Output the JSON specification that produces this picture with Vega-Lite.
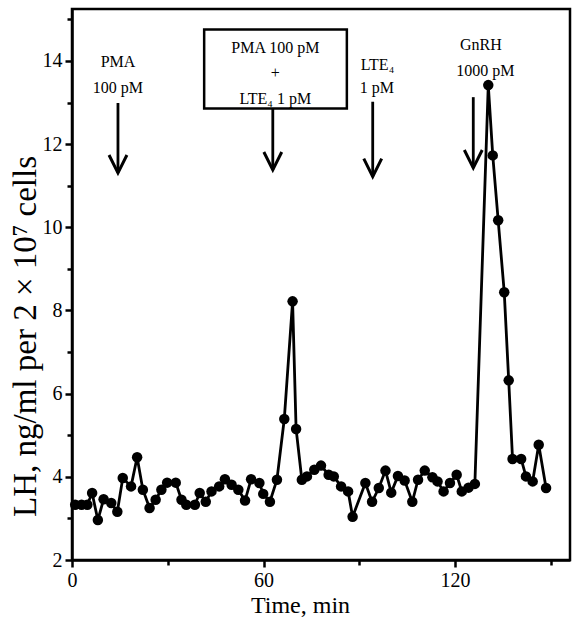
{
  "$schema": "https://vega.github.io/schema/vega-lite/v6.json",
  "width": 498,
  "height": 551,
  "autosize": {"type": "none"},
  "padding": {"left": 72, "top": 9, "right": 6, "bottom": 62},
  "background": "white",
  "datasets": {
    "lh": [
      {"t": 1.0, "v": 3.33}, {"t": 3.0, "v": 3.33}, {"t": 4.8, "v": 3.33}, {"t": 6.3, "v": 3.61},
      {"t": 8.1, "v": 2.96}, {"t": 9.9, "v": 3.46}, {"t": 12.3, "v": 3.37}, {"t": 14.2, "v": 3.16},
      {"t": 15.9, "v": 3.97}, {"t": 18.5, "v": 3.77}, {"t": 20.4, "v": 4.47}, {"t": 22.2, "v": 3.69},
      {"t": 24.3, "v": 3.25}, {"t": 26.2, "v": 3.45}, {"t": 28.0, "v": 3.69}, {"t": 29.8, "v": 3.86},
      {"t": 32.5, "v": 3.86}, {"t": 34.3, "v": 3.45}, {"t": 35.8, "v": 3.33}, {"t": 38.5, "v": 3.33},
      {"t": 40.0, "v": 3.61}, {"t": 41.9, "v": 3.40}, {"t": 43.7, "v": 3.65}, {"t": 46.1, "v": 3.77},
      {"t": 47.9, "v": 3.94}, {"t": 50.0, "v": 3.81}, {"t": 52.1, "v": 3.69}, {"t": 54.2, "v": 3.43},
      {"t": 56.1, "v": 3.94}, {"t": 58.7, "v": 3.85}, {"t": 59.9, "v": 3.59}, {"t": 62.0, "v": 3.40},
      {"t": 64.2, "v": 3.93}, {"t": 66.5, "v": 5.39}, {"t": 69.1, "v": 8.22}, {"t": 70.2, "v": 5.15},
      {"t": 72.0, "v": 3.93}, {"t": 73.6, "v": 4.01}, {"t": 75.9, "v": 4.17}, {"t": 78.0, "v": 4.27},
      {"t": 80.4, "v": 4.05}, {"t": 82.0, "v": 4.01}, {"t": 84.3, "v": 3.77}, {"t": 86.5, "v": 3.65},
      {"t": 87.9, "v": 3.04}, {"t": 91.9, "v": 3.85}, {"t": 94.0, "v": 3.40}, {"t": 96.1, "v": 3.73},
      {"t": 98.2, "v": 4.15}, {"t": 100.0, "v": 3.62}, {"t": 102.1, "v": 4.02}, {"t": 104.2, "v": 3.91},
      {"t": 106.6, "v": 3.40}, {"t": 108.4, "v": 3.93}, {"t": 110.5, "v": 4.15}, {"t": 112.9, "v": 3.99},
      {"t": 114.5, "v": 3.89}, {"t": 116.4, "v": 3.65}, {"t": 118.4, "v": 3.85}, {"t": 120.5, "v": 4.05},
      {"t": 122.1, "v": 3.65}, {"t": 124.2, "v": 3.74}, {"t": 126.2, "v": 3.83}, {"t": 130.4, "v": 13.42},
      {"t": 131.8, "v": 11.73}, {"t": 133.5, "v": 10.17}, {"t": 135.4, "v": 8.44}, {"t": 136.8, "v": 6.32},
      {"t": 138.0, "v": 4.43}, {"t": 140.7, "v": 4.43}, {"t": 142.2, "v": 4.01}, {"t": 144.3, "v": 3.89},
      {"t": 146.2, "v": 4.77}, {"t": 148.5, "v": 3.73}
    ],
    "arrows": [
      {"t": 14.4, "top": 12.99, "tip": 11.31},
      {"t": 62.9, "top": 12.86, "tip": 11.38},
      {"t": 94.2, "top": 13.02, "tip": 11.22},
      {"t": 125.7, "top": 13.13, "tip": 11.43}
    ],
    "box": [
      {"t1": 41.4, "t2": 86.1, "v1": 12.86, "v2": 14.76}
    ],
    "labels": [
      {"t": 14.4, "v": 13.98, "text": "PMA"},
      {"t": 14.4, "v": 13.35, "text": "100 pM"},
      {"t": 63.7, "v": 14.31, "text": "PMA 100 pM"},
      {"t": 63.7, "v": 13.70, "text": "+"},
      {"t": 63.7, "v": 13.08, "text": "LTE₄ 1 pM"},
      {"t": 95.7, "v": 13.90, "text": "LTE₄"},
      {"t": 95.5, "v": 13.34, "text": "1 pM"},
      {"t": 128.1, "v": 14.39, "text": "GnRH"},
      {"t": 129.5, "v": 13.77, "text": "1000 pM"}
    ]
  },
  "layer": [
    {
      "data": {"name": "box"},
      "mark": {"type": "rect", "fill": "white", "stroke": "black", "strokeWidth": 2.5},
      "encoding": {
        "x": {"field": "t1", "type": "quantitative", "scale": {"domain": [0, 156], "nice": false, "zero": false}},
        "x2": {"field": "t2"},
        "y": {"field": "v1", "type": "quantitative", "scale": {"domain": [2, 15.25], "nice": false, "zero": false}},
        "y2": {"field": "v2"}
      }
    },
    {
      "data": {"name": "arrows"},
      "mark": {"type": "rule", "stroke": "black", "strokeWidth": 2.8},
      "encoding": {
        "x": {"field": "t", "type": "quantitative"},
        "y": {"field": "top", "type": "quantitative"},
        "y2": {"field": "tip"}
      }
    },
    {
      "data": {"name": "arrows"},
      "mark": {"type": "point", "shape": "M-1,-2L0,0L1,-2", "size": 320, "filled": false, "stroke": "black", "strokeWidth": 3, "strokeJoin": "miter", "opacity": 1},
      "encoding": {
        "x": {"field": "t", "type": "quantitative"},
        "y": {"field": "tip", "type": "quantitative"}
      }
    },
    {
      "data": {"name": "labels"},
      "mark": {"type": "text", "font": "Liberation Serif", "fontSize": 16, "align": "center", "baseline": "middle", "color": "black"},
      "encoding": {
        "x": {"field": "t", "type": "quantitative"},
        "y": {"field": "v", "type": "quantitative"},
        "text": {"field": "text"}
      }
    },
    {
      "data": {"name": "lh"},
      "mark": {"type": "line", "color": "black", "strokeWidth": 2.8},
      "encoding": {
        "x": {"field": "t", "type": "quantitative",
          "axis": {"values": [0, 30, 60, 90, 120, 150], "labelExpr": "datum.value % 60 === 0 ? datum.label : ''",
            "tickSize": {"condition": {"test": "datum.value % 60 === 0", "value": 7}, "value": 5},
            "labelPadding": 3, "title": "Time, min", "titleX": 228, "titleY": 52, "titleAlign": "center", "titleBaseline": "alphabetic",
            "titleFontWeight": 400, "titleFontStyle": "normal", "titleFontSize": 24, "labelFlush": false, "labelOverlap": false}},
        "y": {"field": "v", "type": "quantitative",
          "axis": {"values": [2, 3, 4, 5, 6, 7, 8, 9, 10, 11, 12, 13, 14, 15], "labelExpr": "datum.value % 2 === 0 ? datum.label : ''",
            "tickSize": {"condition": {"test": "datum.value % 2 === 0", "value": 7}, "value": 5},
            "labelPadding": 3, "title": "LH, ng/ml per 2 × 10⁷ cells", "titleX": -47, "titleY": 327, "titleAngle": -90, "titleAlign": "center", "titleBaseline": "middle",
            "titleFontWeight": 400, "titleFontStyle": "normal", "titleFontSize": 33, "labelFlush": false, "labelOverlap": false}}
      }
    },
    {
      "data": {"name": "lh"},
      "mark": {"type": "circle", "color": "black", "size": 110, "opacity": 1},
      "encoding": {
        "x": {"field": "t", "type": "quantitative"},
        "y": {"field": "v", "type": "quantitative"}
      }
    }
  ],
  "config": {
    "view": {"stroke": "black", "strokeWidth": 2.5},
    "axis": {"domainColor": "black", "domainWidth": 2.5, "tickColor": "black", "tickWidth": 2.5, "grid": false,
      "labelFont": "Liberation Serif", "labelFontSize": 20, "labelColor": "black",
      "titleFont": "Liberation Serif", "titleFontSize": 24, "titleFontWeight": 400, "titleColor": "black"}
  }
}
